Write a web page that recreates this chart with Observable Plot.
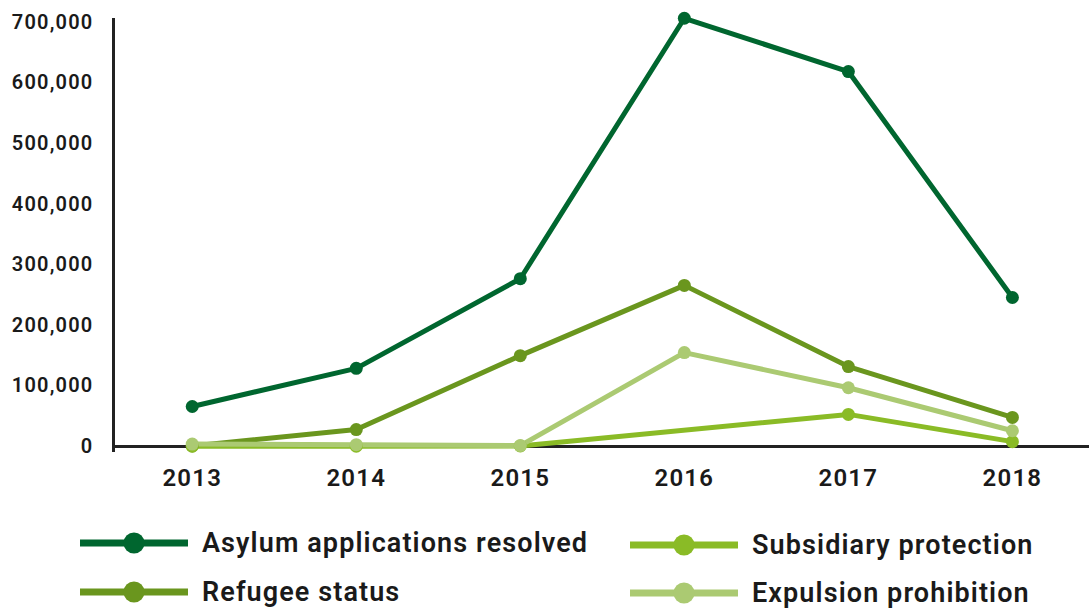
<!DOCTYPE html>
<html>
<head>
<meta charset="utf-8">
<script src="https://cdn.jsdelivr.net/npm/d3@7"></script>
<script src="https://cdn.jsdelivr.net/npm/@observablehq/plot@0.6"></script>
<style>
  html, body { margin: 0; padding: 0; background: #fff; }
  body { width: 1089px; height: 610px; overflow: hidden; font-family: Roboto, "Noto Sans", sans-serif; }
  #chart svg { display: block; }
  #chart svg text { font-weight: 600; letter-spacing: 1.2px; fill: #1a1a1a; }
  .legend { position: relative; height: 110px; }
  .item { position: absolute; display: flex; align-items: center; font-size: 27px; font-weight: 600; letter-spacing: 1.1px; color: #1a1a1a; }
  .item svg { margin-right: 14px; }
</style>
</head>
<body>
<div id="chart"></div>
<div class="legend" id="legend"></div>
<script>
const years = [2013, 2014, 2015, 2016, 2017, 2018];
const seriesNames = ["Asylum applications resolved", "Refugee status", "Subsidiary protection", "Expulsion prohibition"];
const colors = ["#00662f", "#6a961e", "#8abb26", "#abca72"];
const asylum = [66000, 129000, 277000, 707000, 619000, 246000];
const refugee = [1000, 28000, 150000, 266000, 132000, 48000];
const subsidiary = [500, 500, 1000, null, 53000, 8000];
const expulsion = [4000, 3000, 1500, 155000, 97000, 26000];
const yTicks = [0, 100000, 200000, 300000, 400000, 500000, 600000, 700000];

const valueLists = [asylum, refugee, subsidiary, expulsion];
const data = [];
seriesNames.forEach((s, i) => years.forEach((y, j) => {
  if (valueLists[i][j] != null) data.push({series: s, year: y, value: valueLists[i][j]});
}));

const xDomain = [2012.52, 2018.47];
const chart = Plot.plot({
  width: 1089,
  height: 500,
  marginLeft: 113,
  marginRight: 0,
  marginTop: 22,
  marginBottom: 54,
  style: {fontFamily: "Roboto, sans-serif", fontSize: "20px", color: "#1a1a1a"},
  x: {domain: xDomain, label: null},
  y: {domain: [0, 700000], label: null},
  color: {domain: seriesNames, range: colors},
  marks: [
    Plot.axisX({ticks: years, tickFormat: d => String(d), tickSize: 0, tickPadding: 22, fontSize: 24, label: null}),
    Plot.axisY({ticks: yTicks, tickFormat: d => d3.format(",")(d), tickSize: 0, tickPadding: 20, fontSize: 20, label: null}),
    Plot.ruleY([0], {stroke: "#222", strokeWidth: 3}),
    Plot.ruleX([xDomain[0]], {stroke: "#222", strokeWidth: 3, insetTop: -4, insetBottom: -6}),
    Plot.line(data, {x: "year", y: "value", z: "series", stroke: "series", strokeWidth: 5}),
    Plot.dot(data, {x: "year", y: "value", fill: "series", r: 6.5})
  ]
});
document.getElementById("chart").appendChild(chart);

const legend = document.getElementById("legend");
const pos = [[80, 43], [630, 45], [80, 92], [630, 93]];
const order = [0, 2, 1, 3];
order.forEach((si, k) => {
  const [left, top] = pos[k];
  const div = document.createElement("div");
  div.className = "item";
  div.style.left = left + "px";
  div.style.top = (top - 18) + "px";
  div.style.height = "36px";
  div.innerHTML = `<svg width="108" height="24"><line x1="0" x2="108" y1="12" y2="12" stroke="${colors[si]}" stroke-width="7"/><circle cx="54" cy="12" r="10.5" fill="${colors[si]}"/></svg><span>${seriesNames[si]}</span>`;
  legend.appendChild(div);
});
</script>
</body>
</html>
